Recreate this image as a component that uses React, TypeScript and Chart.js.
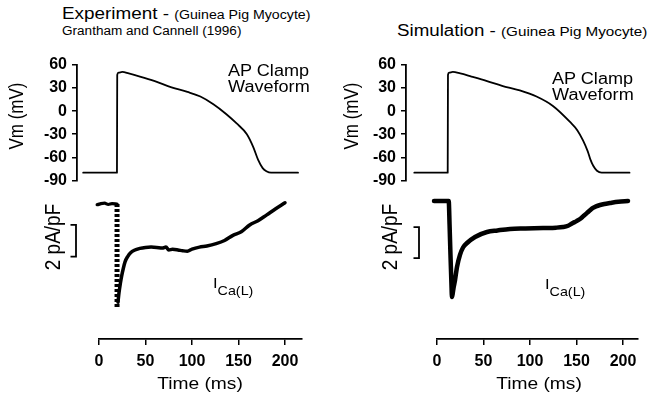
import React, { useEffect, useRef } from "react";
import { Chart, registerables } from "chart.js";

Chart.register(...registerables);

// ---------- DATA ----------
// Experiment (Grantham & Cannell 1996) AP clamp waveform: time (ms), Vm (mV)
const apExpTime = [-17, 19.3, 19.6, 21, 25, 32, 44, 60, 78, 95, 109, 123, 137, 148, 159, 166, 171, 176, 180, 185, 214];
const apExpVm = [-80, -80, 47, 50, 51, 49, 45, 39, 31, 25, 19, 9, -4, -16, -30, -47, -63, -74, -78, -80, -80];

// Simulation AP clamp waveform
const apSimTime = [-24.4, 11.5, 11.8, 13, 17, 25, 37, 53, 70, 89, 107, 125, 143, 151, 157, 162, 165, 168, 172, 177, 207];
const apSimVm = [-80, -80, 47, 50, 51, 49, 45, 39.5, 33, 27, 19, 6.5, -14, -25, -38, -52, -63, -71, -77.5, -80, -80];

// Experiment I_Ca(L) (pA/pF): holding baseline, capacitive step (dotted), current trace
const icaExpBaseTime = [-18.3, -14, -10, -6, -2, 2, 6, 10, 14, 19.4];
const icaExpBaseVal = [0, 0.05, -0.02, 0.03, -0.04, 0.02, 0.05, -0.03, 0.02, 0];
const icaExpStepTime = [19.4, 19.4];
const icaExpStepVal = [0, -6.5];
const icaExpTime = [20.4, 21.5, 23, 24.5, 26, 28, 31, 34, 38, 44, 50, 56, 62, 68, 72, 75, 79, 85, 90, 95, 100, 108, 116, 126, 135, 144, 153, 162, 171, 180, 190, 200];
const icaExpVal = [-6.2, -5.6, -5.0, -4.5, -4.1, -3.65, -3.3, -3.08, -2.92, -2.8, -2.74, -2.72, -2.74, -2.78, -2.72, -2.9, -2.86, -2.9, -2.95, -2.98, -2.85, -2.72, -2.65, -2.5, -2.3, -1.98, -1.75, -1.32, -1.05, -0.7, -0.3, 0.08];

// Simulation I_Ca(L)
const icaSimTime = [-3.2, 12.6, 13.5, 14.5, 15.5, 16.1, 16.8, 17.8, 19.4, 21.5, 24.7, 28, 32.3, 40.9, 53.8, 65, 78.5, 95, 114, 128, 135.5, 141, 146, 150, 153.8, 157.5, 161.3, 164.5, 167.7, 171, 175.3, 180, 186, 195, 205.4];
const icaSimVal = [0, 0, -1.5, -3.5, -5.3, -6.2, -6.0, -5.6, -5.1, -4.26, -3.48, -3.0, -2.71, -2.32, -2.0, -1.9, -1.8, -1.77, -1.74, -1.72, -1.68, -1.6, -1.42, -1.3, -1.16, -0.97, -0.77, -0.6, -0.45, -0.35, -0.26, -0.19, -0.13, -0.05, 0];

// Tick labels
const vmTicks = [60, 30, 0, -30, -60, -90];
const timeTicks = [0, 50, 100, 150, 200];
const scaleBarSize = 2; // pA/pF

// ---------- LAYOUT ----------
const PX_PER_MS = 0.93;
const FONT = '"Liberation Sans", Arial, Helvetica, sans-serif';
const TICK_FONT = { family: '"Liberation Sans", Arial, sans-serif', size: 16, weight: "bold" as const };

const pts = (xs: number[], ys: number[]) => xs.map((x, i) => ({ x, y: ys[i] }));

type Col = {
  left: number; width: number; yAxisX: number; x0: number; xAxisEnd: number; apRight: number;
  zeroY: number; pxPerPA: number; barX: number; barTop: number;
};

const COLS: Col[] = [
  { left: 0, width: 320, yAxisX: 77, x0: 99, xAxisEnd: 302, apRight: 315, zeroY: 204, pxPerPA: 15.85, barX: 76, barTop: -1.32 },
  { left: 320, width: 327, yAxisX: 406, x0: 437, xAxisEnd: 638, apRight: 642, zeroY: 201, pxPerPA: 15.5, barX: 419, barTop: -1.68 },
];

const AP_TOP = 50, AP_H = 145, AP_Y60 = 65, AP_YM90 = 185;
const I_TOP = 185, I_H = 215, I_AREA_TOP = 195, X_AXIS_Y = 339, X_AXIS_H = 30;

function lineDs(data: { x: number; y: number }[], width: number, extra: any = {}) {
  return {
    data,
    borderColor: "#000",
    backgroundColor: "#000",
    borderWidth: width,
    pointRadius: 0,
    tension: 0,
    cubicInterpolationMode: "monotone" as const,
    fill: false,
    clip: false as const,
    borderJoinStyle: "round" as const,
    borderCapStyle: "round" as const,
    ...extra,
  };
}

function apConfig(col: Col, times: number[], vm: number[]) {
  return {
    type: "line" as const,
    data: { datasets: [lineDs(pts(times, vm), 1.8)] },
    options: {
      animation: false as const,
      responsive: false,
      events: [],
      layout: {
        padding: { left: 0, top: AP_Y60 - AP_TOP, bottom: AP_TOP + AP_H - AP_YM90, right: col.left + col.width - col.apRight },
      },
      plugins: { legend: { display: false }, tooltip: { enabled: false }, title: { display: false } },
      scales: {
        x: {
          type: "linear" as const,
          display: false,
          min: (col.yAxisX - col.x0) / PX_PER_MS,
          max: (col.apRight - col.x0) / PX_PER_MS,
        },
        y: {
          type: "linear" as const,
          min: -90,
          max: 60,
          afterBuildTicks: (s: any) => { s.ticks = vmTicks.map((v) => ({ value: v })); },
          afterFit: (s: any) => { s.width = col.yAxisX - col.left; },
          ticks: { color: "#000", font: TICK_FONT, padding: 5 },
          grid: { drawOnChartArea: false, tickLength: 5, color: "#000", lineWidth: 1.5 },
          border: { display: true, color: "#000", width: 1.8 },
        },
      },
    },
  };
}

function icaConfig(col: Col, datasets: any[]) {
  const yMax = (col.zeroY - I_AREA_TOP) / col.pxPerPA;
  const yMin = -(X_AXIS_Y - col.zeroY) / col.pxPerPA;
  const barXt = (col.barX - col.x0) / PX_PER_MS;
  const barXl = (col.barX - 5.5 - col.x0) / PX_PER_MS;
  const bar = lineDs(
    pts([barXl, barXt, barXt, barXl], [col.barTop, col.barTop, col.barTop - scaleBarSize, col.barTop - scaleBarSize]),
    1.8,
    { borderJoinStyle: "miter", borderCapStyle: "butt", cubicInterpolationMode: "default" }
  );
  return {
    type: "line" as const,
    data: { datasets: [...datasets, bar] },
    options: {
      animation: false as const,
      responsive: false,
      events: [],
      layout: {
        padding: {
          left: col.x0 - col.left,
          right: col.left + col.width - col.xAxisEnd,
          top: I_AREA_TOP - I_TOP,
          bottom: I_TOP + I_H - X_AXIS_Y - X_AXIS_H,
        },
      },
      plugins: { legend: { display: false }, tooltip: { enabled: false }, title: { display: false } },
      scales: {
        x: {
          type: "linear" as const,
          position: "bottom" as const,
          min: 0,
          max: (col.xAxisEnd - col.x0) / PX_PER_MS,
          afterBuildTicks: (s: any) => { s.ticks = timeTicks.map((v) => ({ value: v })); },
          afterFit: (s: any) => { s.height = X_AXIS_H; },
          ticks: { color: "#000", font: TICK_FONT, padding: 7, maxRotation: 0, autoSkip: false },
          grid: { drawOnChartArea: false, tickLength: 6, color: "#000", lineWidth: 1.5 },
          border: { display: true, color: "#000", width: 1.8 },
        },
        y: { type: "linear" as const, display: false, min: yMin, max: yMax },
      },
    },
  };
}

function ChartCanvas({ left, top, width, height, make }: { left: number; top: number; width: number; height: number; make: () => any }) {
  const ref = useRef<HTMLCanvasElement>(null);
  useEffect(() => {
    const chart = new Chart(ref.current as HTMLCanvasElement, make());
    return () => chart.destroy();
  }, []);
  return (
    <canvas
      ref={ref}
      width={width}
      height={height}
      style={{ position: "absolute", left, top, width, height, display: "block" }}
    />
  );
}

// Text helpers (baseline-positioned, Liberation Sans with line-height 1 → baseline = top + 0.8465em)
function Txt({ x, baseline, size, sx = 1.18, center = false, children }: any) {
  return (
    <div
      style={{
        position: "absolute",
        left: x,
        top: baseline - 0.8465 * size,
        fontFamily: FONT,
        fontSize: size,
        lineHeight: 1,
        whiteSpace: "nowrap",
        color: "#000",
        transformOrigin: center ? "center top" : "left top",
        transform: center ? `translateX(-50%) scaleX(${sx})` : `scaleX(${sx})`,
      }}
    >
      {children}
    </div>
  );
}

function VTxt({ cx, cy, size, sx = 1.15, children }: any) {
  return (
    <div style={{ position: "absolute", left: cx, top: cy, width: 0, height: 0 }}>
      <div
        style={{
          position: "absolute",
          left: 0,
          top: 0,
          fontFamily: FONT,
          fontSize: size,
          lineHeight: 1,
          whiteSpace: "nowrap",
          color: "#000",
          transformOrigin: "0 0",
          transform: `scaleX(${sx}) rotate(-90deg) translate(-50%, -50%)`,
        }}
      >
        {children}
      </div>
    </div>
  );
}

function ICaLabel({ x, baseline }: { x: number; baseline: number }) {
  return (
    <Txt x={x} baseline={baseline} size={15} sx={1.1}>
      I<span style={{ fontSize: 13, verticalAlign: -7 }}>Ca(L)</span>
    </Txt>
  );
}

export default function App() {
  const [L, R] = COLS;
  return (
    <div style={{ position: "absolute", left: 0, top: 0, width: 647, height: 400, background: "#fff", overflow: "hidden" }}>
      <ChartCanvas left={L.left} top={AP_TOP} width={L.width} height={AP_H} make={() => apConfig(L, apExpTime, apExpVm)} />
      <ChartCanvas left={R.left} top={AP_TOP} width={R.width} height={AP_H} make={() => apConfig(R, apSimTime, apSimVm)} />
      <ChartCanvas
        left={L.left}
        top={I_TOP}
        width={L.width}
        height={I_H}
        make={() =>
          icaConfig(L, [
            lineDs(pts(icaExpBaseTime, icaExpBaseVal), 3.2),
            lineDs(pts(icaExpStepTime, icaExpStepVal), 5, { borderDash: [3, 2], borderCapStyle: "butt", cubicInterpolationMode: "default" }),
            lineDs(pts(icaExpTime, icaExpVal), 3.5),
          ])
        }
      />
      <ChartCanvas
        left={R.left}
        top={I_TOP}
        width={R.width}
        height={I_H}
        make={() => icaConfig(R, [lineDs(pts(icaSimTime, icaSimVal), 4.5)])}
      />

      {/* Titles */}
      <Txt x={62} baseline={20} size={16} sx={1.18}>
        Experiment - <span style={{ fontSize: 12 }}>(Guinea Pig Myocyte)</span>
      </Txt>
      <Txt x={62} baseline={35} size={12} sx={1.13}>
        Grantham and Cannell (1996)
      </Txt>
      <Txt x={397} baseline={37} size={16} sx={1.17}>
        Simulation - <span style={{ fontSize: 13 }}>(Guinea Pig Myocyte)</span>
      </Txt>

      {/* AP clamp annotations */}
      <Txt x={228} baseline={77} size={16} sx={1.13}>AP Clamp</Txt>
      <Txt x={228} baseline={93} size={16} sx={1.13}>Waveform</Txt>
      <Txt x={552} baseline={85} size={16} sx={1.13}>AP Clamp</Txt>
      <Txt x={552} baseline={101} size={16} sx={1.13}>Waveform</Txt>

      {/* Axis titles */}
      <VTxt cx={17} cy={116} size={17}>Vm (mV)</VTxt>
      <VTxt cx={352} cy={116} size={17}>Vm (mV)</VTxt>
      <VTxt cx={53} cy={237} size={19}>2 pA/pF</VTxt>
      <VTxt cx={390} cy={237} size={19}>2 pA/pF</VTxt>
      <Txt x={200} baseline={390} size={16} sx={1.2} center>Time (ms)</Txt>
      <Txt x={539} baseline={390} size={16} sx={1.2} center>Time (ms)</Txt>

      {/* Current labels */}
      <ICaLabel x={213} baseline={288} />
      <ICaLabel x={545} baseline={289} />
    </div>
  );
}
